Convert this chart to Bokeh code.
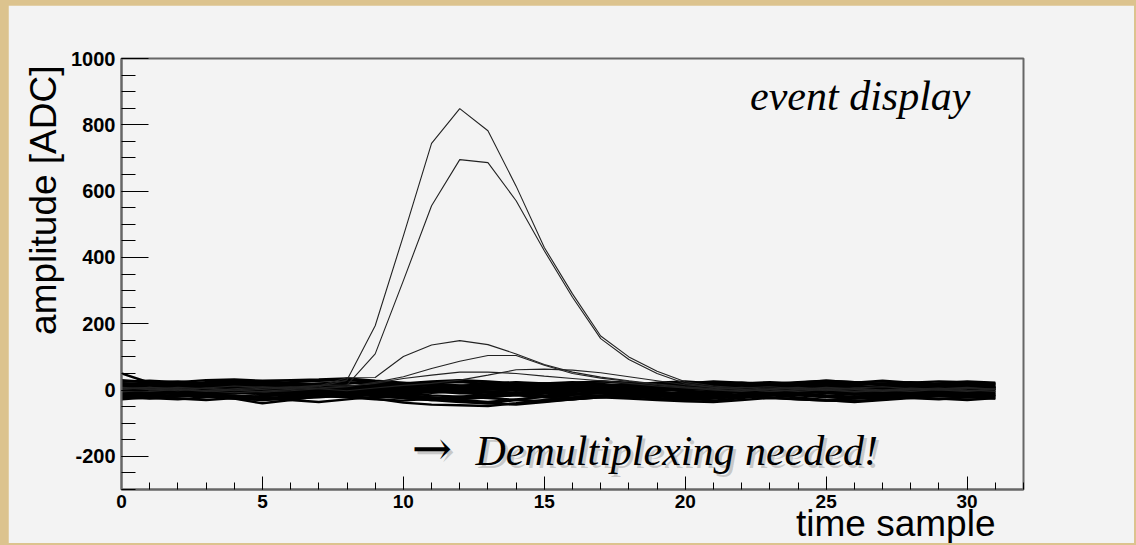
import math
from bokeh.plotting import figure
from bokeh.models import Range1d, SingleIntervalTicker, PrintfTickFormatter, Label, Title
from bokeh.layouts import column
from bokeh.embed import file_html
from bokeh.resources import INLINE

# ---------------- data ----------------
samples = list(range(32))

x_ticks_interval = 5
y_ticks_interval = 200

pulse_1 = [8, 4, -2, 6, 12, 8, 4, 10, 30, 194, 465, 744, 849, 782, 615, 430, 290, 163, 100, 57, 25, 12, 6, 10, 4, -2, 6, 10, 4, 0, 6, 2]
pulse_2 = [-4, 2, 8, 4, -2, 2, 8, 14, 15, 109, 330, 556, 695, 686, 571, 420, 280, 155, 92, 50, 20, 8, 2, -4, 2, 8, 4, -2, 2, 6, 0, -4]
pulse_3 = [2, 8, 4, -2, 4, 10, 6, 12, 37, 38, 101, 136, 149, 137, 109, 77, 54, 39, 28, 18, 10, 4, 8, 2, -4, 2, 6, 0, -4, 2, 6, 2]
pulse_4 = [0, -4, 2, 6, 0, -6, -2, 4, 10, 23, 40, 65, 87, 104, 104, 75, 50, 36, 26, 16, 8, 2, -2, 4, 8, 2, -4, 0, 6, 2, -2, 4]
pulse_5 = [-6, 0, 4, -2, -8, -4, 2, 6, 12, 20, 35, 45, 54, 54, 50, 42, 35, 28, 20, 12, 6, 0, -4, 2, 6, 0, -6, -2, 4, 0, -4, 2]
pulse_6 = [4, 8, 2, -4, 0, 6, 10, 4, -2, 6, 14, 20, 30, 45, 61, 63, 60, 52, 40, 28, 16, 8, 2, -4, 0, 6, 2, -4, 0, 4, 8, 2]

noise_01 = [50, 22, 18, 20, 22, 18, 15, 16, 20, 24, 18, 12, 10, 14, 18, 20, 16, 12, 14, 18, 20, 16, 12, 15, 18, 22, 20, 16, 14, 18, 20, 16]
noise_02 = [-12, -18, -20, -14, -22, -30, -24, -16, -10, -14, -20, -26, -22, -16, -12, -18, -22, -16, -10, -14, -20, -24, -18, -12, -16, -22, -26, -20, -14, -18, -22, -16]
noise_03 = [5, 10, 14, 8, 2, -4, 0, 6, 10, 4, -2, -8, -4, 2, 8, 12, 6, 0, -4, 2, 8, 12, 6, 0, 4, 10, 6, 0, -6, 0, 6, 10]
noise_04 = [-5, 0, 4, -2, -8, -12, -6, 0, 6, 10, 4, -4, -10, -6, 0, 4, -2, -8, -4, 2, 6, 0, -6, -10, -4, 2, 8, 4, -2, -6, 0, 4]
noise_05 = [20, 16, 10, 14, 20, 26, 22, 16, 12, 8, 14, 20, 24, 18, 12, 16, 22, 26, 20, 14, 10, 16, 22, 18, 12, 8, 14, 20, 24, 18, 14, 20]
noise_06 = [-20, -14, -8, -12, -18, -24, -20, -12, -6, -10, -16, -22, -28, -22, -14, -8, -12, -18, -22, -16, -10, -14, -20, -16, -10, -6, -12, -18, -14, -8, -12, -18]
noise_07 = [0, -6, -10, -4, 2, 6, 0, -6, -2, 4, 10, 6, 0, -4, -10, -6, 0, 6, 10, 4, -2, -8, -4, 2, 8, 4, -2, -6, 0, 6, 2, -4]
noise_08 = [10, 14, 18, 24, 28, 22, 16, 10, 6, 12, 18, 14, 8, 4, 10, 16, 20, 14, 8, 12, 18, 24, 20, 14, 10, 16, 22, 28, 22, 16, 12, 18]
noise_09 = [-25, -20, -14, -18, -26, -40, -30, -18, -12, -16, -24, -30, -26, -20, -16, -22, -28, -20, -14, -18, -26, -32, -24, -16, -12, -18, -24, -28, -22, -16, -20, -24]
noise_10 = [15, 8, 2, 6, 12, 8, 2, -4, 0, 6, 12, 18, 14, 8, 2, 6, 12, 8, 2, -2, 4, 10, 14, 8, 2, -2, 4, 10, 6, 0, 4, 10]
noise_11 = [-8, -14, -18, -12, -6, -2, -8, -14, -20, -14, -8, -2, 2, -4, -10, -16, -12, -6, 0, -6, -12, -18, -14, -8, -2, -6, -12, -16, -10, -4, -8, -14]
noise_12 = [25, 28, 24, 30, 32, 28, 30, 32, 35, 28, 22, 16, 12, 18, 24, 20, 14, 10, 16, 22, 26, 20, 14, 18, 24, 28, 24, 18, 22, 26, 24, 20]
noise_13 = [-15, -10, -4, 0, -6, -12, -16, -10, -4, -10, -18, -26, -34, -40, -30, -20, -14, -8, -12, -18, -24, -18, -12, -6, -10, -16, -20, -14, -8, -12, -16, -10]
noise_14 = [2, 6, 0, -6, -2, 4, 8, 12, 8, 2, -4, 0, 6, 10, 4, -2, -6, 0, 6, 2, -4, -8, -2, 4, 8, 2, -4, 0, 6, 10, 4, 0]
noise_15 = [-2, 4, 8, 14, 10, 4, -2, 2, 8, 14, 20, 14, 8, 2, -2, 4, 10, 16, 12, 6, 0, 4, 10, 14, 8, 2, 6, 12, 16, 10, 4, 8]
noise_16 = [-18, -24, -28, -22, -16, -20, -26, -22, -16, -26, -38, -44, -46, -48, -40, -30, -22, -16, -20, -26, -30, -24, -18, -22, -28, -32, -26, -20, -24, -28, -22, -18]
noise_17 = [8, 2, -4, 2, 8, 14, 10, 4, -2, -8, -2, 4, 10, 6, 0, -6, -2, 4, 10, 14, 8, 2, -2, 4, 10, 6, 0, -4, 2, 8, 12, 6]
noise_18 = [-10, -4, 2, 8, 4, -2, -8, -12, -6, 0, 4, -2, -8, -14, -10, -4, 2, -2, -8, -14, -18, -12, -6, 0, -4, -10, -14, -8, -2, -6, -12, -8]
noise_19 = [18, 22, 26, 20, 14, 18, 24, 28, 30, 24, 18, 22, 28, 24, 18, 14, 20, 26, 22, 16, 20, 26, 22, 16, 22, 28, 24, 18, 14, 20, 26, 22]
noise_20 = [-28, -22, -16, -20, -26, -30, -24, -18, -22, -28, -32, -26, -20, -24, -30, -34, -28, -22, -26, -30, -34, -36, -30, -24, -28, -32, -34, -28, -22, -26, -30, -24]
noise_21 = [4, -2, -8, -14, -10, -4, 2, 6, 2, -4, -10, -16, -20, -14, -8, -2, 4, 0, -6, -12, -8, -2, 4, 8, 4, -2, -8, -12, -6, 0, -4, -8]
noise_22 = [12, 18, 14, 8, 4, 10, 16, 20, 24, 18, 12, 6, 2, 8, 14, 20, 24, 18, 12, 6, 10, 16, 20, 24, 20, 14, 8, 4, 10, 16, 20, 14]
noise_23 = [-6, 0, 6, 2, -4, -10, -16, -20, -14, -8, -14, -22, -30, -36, -28, -20, -14, -8, -4, -10, -16, -22, -18, -12, -6, -2, -8, -14, -18, -12, -6, -2]
noise_24 = [30, 24, 18, 12, 16, 22, 18, 12, 8, 14, 20, 26, 30, 26, 20, 14, 10, 6, 2, 8, 14, 10, 4, 8, 14, 18, 12, 6, 10, 16, 12, 8]
noise_25 = [-14, -20, -26, -30, -24, -18, -12, -6, -10, -16, -12, -6, -2, -8, -14, -10, -4, 0, -6, -12, -16, -10, -4, -8, -14, -20, -24, -18, -12, -6, -10, -16]
noise_26 = [0, 6, 12, 16, 20, 14, 8, 4, -2, -6, 0, 6, 12, 18, 22, 16, 10, 4, 0, -4, 2, 8, 4, -2, -6, 0, 6, 12, 8, 2, -2, 4]
noise_27 = [-22, -26, -20, -14, -18, -24, -30, -36, -28, -20, -24, -30, -36, -40, -44, -36, -28, -22, -18, -24, -30, -26, -20, -16, -22, -30, -36, -30, -24, -18, -22, -26]
noise_28 = [6, 10, 4, -2, 2, 8, 14, 18, 14, 8, 2, -4, 2, 8, 12, 6, 0, 4, 10, 16, 20, 14, 8, 2, 6, 12, 16, 20, 14, 8, 4, 10]

pulses = [pulse_1, pulse_2, pulse_3, pulse_4, pulse_5, pulse_6]
noise = [noise_01, noise_02, noise_03, noise_04, noise_05, noise_06, noise_07,
         noise_08, noise_09, noise_10, noise_11, noise_12, noise_13, noise_14,
         noise_15, noise_16, noise_17, noise_18, noise_19, noise_20, noise_21,
         noise_22, noise_23, noise_24, noise_25, noise_26, noise_27, noise_28]

x_title = "time sample"
y_title = "amplitude [ADC]"
note_top = "event display"
note_bottom = "Demultiplexing needed!"
arrow = "\u2192"

# ---------------- figure ----------------
panel = "#f3f3f3"
tan = "#dcc38e"
p = figure(width=1126, height=538, output_backend="svg", toolbar_location=None,
           x_range=Range1d(0, 32), y_range=Range1d(-300, 1000),
           min_border_left=113, min_border_right=111,
           min_border_top=53, min_border_bottom=54,
           background_fill_color=panel, border_fill_color=panel)
p.grid.visible = False
p.outline_line_color = "#666666"
p.outline_line_width = 2

p.multi_line(xs=[samples] * len(noise), ys=noise, line_color="black", line_width=2.4)
p.multi_line(xs=[samples] * len(pulses), ys=pulses, line_color="#222222", line_width=1.1)

p.xaxis.ticker = SingleIntervalTicker(interval=x_ticks_interval, num_minor_ticks=5)
p.yaxis.ticker = SingleIntervalTicker(interval=y_ticks_interval, num_minor_ticks=4)
p.yaxis.formatter = PrintfTickFormatter(format="%d")
p.xaxis.formatter = PrintfTickFormatter(format="%d")

for ax in (p.xaxis[0], p.yaxis[0]):
    ax.axis_line_color = "#666666"
    ax.axis_line_width = 2
    ax.major_tick_line_color = "black"
    ax.minor_tick_line_color = "black"
    ax.major_tick_out = 0
    ax.minor_tick_out = 0
    ax.major_label_text_font = "Liberation Sans"
    ax.major_label_text_font_style = "bold"
    ax.major_label_text_color = "black"

p.xaxis.major_tick_in = 13
p.xaxis.minor_tick_in = 7
p.yaxis.major_tick_in = 27
p.yaxis.minor_tick_in = 14
p.yaxis.major_label_text_font_size = "20px"
p.xaxis.major_label_text_font_size = "19px"
p.yaxis.major_label_standoff = 6
p.xaxis.major_label_standoff = 5

# axis titles (ROOT style: aligned to the axis end)
p.add_layout(Title(text=x_title, align="right", offset=28, standoff=-19,
                   text_font="Liberation Sans", text_font_style="normal",
                   text_font_size="37px", text_color="black"), "below")
p.add_layout(Title(text=y_title, align="right", offset=7, standoff=10,
                   text_font="Liberation Sans", text_font_style="normal",
                   text_font_size="37px", text_color="black"), "left")

# annotations inside the frame
p.add_layout(Label(x=22.3, y=887, text=note_top, text_font="Liberation Serif",
                   text_font_style="italic", text_font_size="42px", text_color="black",
                   text_align="left", text_baseline="alphabetic"))

for dx, dy, col, alpha in [(3, -3, "#777777", 0.35), (0, 0, "black", 1.0)]:
    p.add_layout(Label(x=10.3, y=-175, x_offset=dx, y_offset=dy, text=arrow,
                       text_font="DejaVu Serif", text_font_size="48px",
                       text_color=col, text_alpha=alpha,
                       text_align="left", text_baseline="alphabetic"))
    p.add_layout(Label(x=12.56, y=-185, x_offset=dx, y_offset=dy, text=note_bottom,
                       text_font="Liberation Serif", text_font_style="italic",
                       text_font_size="42px", text_color=col, text_alpha=alpha,
                       text_align="left", text_baseline="alphabetic"))

page = column(p, styles={"background-color": tan, "padding": "5px 2px 2px 8px"})

open("out.html", "w").write(file_html(page, INLINE))
